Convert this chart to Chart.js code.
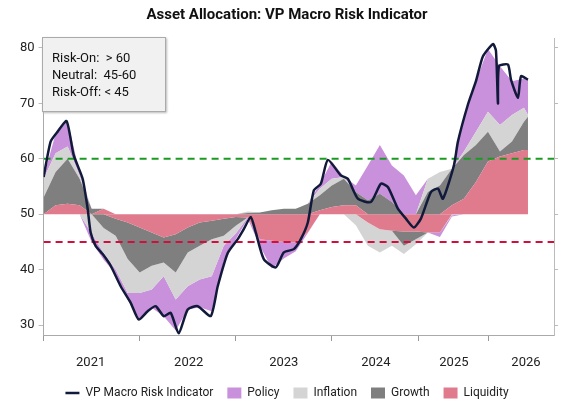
<!DOCTYPE html>
<html><head><meta charset="utf-8">
<script src="https://cdn.jsdelivr.net/npm/chart.js@4"></script>
<style>
html,body{margin:0;padding:0;background:#fff;}
#wrap{position:relative;width:567px;height:415px;}
#box{position:absolute;left:42px;top:37px;width:124px;height:75px;background:#f1f1f1;border:1px solid #aaa;box-shadow:1px 1px 2px #bbb;font:13px Roboto,sans-serif;color:#111;padding:11px 0 0 9px;box-sizing:border-box;line-height:17px;}
</style></head><body>
<div id="wrap"><canvas id="c" width="567" height="415"></canvas>
<div id="box">Risk-On:&nbsp; &gt; 60<br>Neutral:&nbsp; 45-60<br>Risk-Off: &lt; 45</div></div>
<script>
// time index (chart units) for component samples
const compX = [0,12,24,36,48,60,72,84,96,108,120,132,144,156,168,180,192,204,216,228,240,252,264,276,288,300,312,324,336,348,360,372,384,396,408,420,432,444,456,468,480,484];
const liquidity = [0,1.6,1.9,1.6,0,1,-0.8,-1.5,-2.4,-3.3,-4.2,-3.6,-2.4,-1.5,-1.2,-0.8,-0.5,-0.6,-4.5,-4.8,-5,-5.1,-3.3,0.7,1.3,1.6,1.6,-1.5,-2.7,-3,-3.1,-3.1,-3.3,-3.3,1.6,2.8,5.8,9.5,10.4,11,11.6,11.6];
const growth    = [3,6,8.1,4.8,1,-2.5,-3.1,-6.6,-8.1,-6,-4.5,-6.9,-4.5,-4.2,-3.3,-3.1,-1.6,0.2,0.3,0.7,1,1,1.9,2.7,3.9,4.8,2.4,2.5,3.7,2.2,-2.6,-1.4,4,5.2,6.6,7.9,6.7,5.4,0.9,2.1,5.1,6];
const inflation = [3.4,3.4,2.2,0.6,-3.5,-4.5,-6.1,-6.1,-3.7,-4.3,-2.5,-4.9,-6.1,-6.1,-6.7,-1.8,-1.4,0.3,0,0,0,0,0,1.2,1.2,0.3,-2,-4.2,-4.2,-2.7,-1.5,-0.9,2.4,2.4,-0.2,0.6,2.4,3.6,4.8,4.8,2.5,0.3];
const policy    = [0.3,3.5,4.6,0.5,-1.5,-1.2,-0.8,-1.2,-4.8,-3.3,-7.2,-5.6,-4.2,-5,-6.3,-2.8,-1,-0.2,-1.2,-5,-3,-1.6,-0.1,0.8,3.1,0.1,1.2,6.3,8.8,6.6,7,3.4,0,-0.8,-0.2,6.2,9.1,11.3,10.6,6.1,5.3,6.4];
// indicator line
const lineX = [0,7,14,23,30,39,44,47,52,59,67,77,87,95,104,112,120,127,135,144,154,167,174,184,194,200,207,212,220,232,240,250,257,264,270,277,284,297,304,314,327,337,344,354,362,370,377,387,394,399,410,414,424,432,439,449,452,454,455,464,467,474,477,484];
const lineY = [56.7,63.1,64.9,66.8,60.7,56.4,51,46.7,44.3,42.8,40.7,37,34,31,32.5,33.4,31.6,32.2,28.5,32.8,33.4,31.6,37,43,45.5,47.3,49.5,46.7,41.9,40.4,43.1,43.7,45.5,48.5,54.3,55.5,59.8,57,56.4,52.8,52.2,55.5,54.9,51,49.2,47.6,49.2,54,54.6,52.8,58.8,63.1,69.8,74,78.5,80.7,79.5,70,76.7,77,74.3,71,74.9,74.3];
const yearTicks = [0,96,192,288,375,445];
const yearLabelPos = [47,145,240,332,410,482];
const yearLabels = ['2021','2022','2023','2024','2025','2026'];
const yTicks = [30,40,50,60,70,80];
const BASE = 50, RISK_ON = 60, RISK_OFF = 45;

const names = ['Liquidity','Growth','Inflation','Policy'];
const colors = ['#e07b8e','#7f7f7f','#d4d4d4','#c990dc'];
const comps = [liquidity,growth,inflation,policy];
const areaSets = [];
['pos','neg'].forEach(side=>{
  const cum = compX.map(()=>BASE);
  comps.forEach((arr,k)=>{
    const pts = compX.map((x,i)=>{
      const v = side==='pos'?Math.max(arr[i],0):Math.min(arr[i],0);
      cum[i]+=v; return {x:x,y:cum[i]};
    });
    areaSets.push({label: side==='pos'?names[k]:'', data:pts, borderWidth:0, pointRadius:0,
      backgroundColor:colors[k], fill: k===0?{value:BASE}:'-1', tension:0, pointStyle:'rect'});
  });
});
const xEnd = 510;
const datasets = [
  {label:'VP Macro Risk Indicator', data:lineX.map((x,i)=>({x:x,y:lineY[i]})), borderColor:'#111a3a', backgroundColor:'#111a3a', borderWidth:2.5, pointRadius:0, fill:false, tension:0.2, pointStyle:'line'},
  {label:'', data:[{x:0,y:RISK_ON},{x:xEnd,y:RISK_ON}], borderColor:'#1a9a22', borderWidth:2, borderDash:[7,5], pointRadius:0, fill:false},
  {label:'', data:[{x:0,y:RISK_OFF},{x:xEnd,y:RISK_OFF}], borderColor:'#d0103c', borderWidth:2, borderDash:[7,5], pointRadius:0, fill:false},
  ...areaSets
];
const order = ['VP Macro Risk Indicator','Policy','Inflation','Growth','Liquidity'];
Chart.defaults.font.family = 'Roboto, sans-serif';
new Chart(document.getElementById('c'),{
  type:'line',
  data:{datasets},
  options:{
    responsive:false, animation:false,
    layout:{padding:{left:16,right:9,top:0,bottom:6}},
    plugins:{
      title:{display:true,text:'Asset Allocation: VP Macro Risk Indicator',font:{size:15,weight:'bold'},color:'#111',padding:{top:6,bottom:14}},
      legend:{position:'bottom',labels:{usePointStyle:true,pointStyleWidth:14,boxHeight:11,color:'#222',font:{size:12},padding:14,
        filter:(it)=>!!it.text, sort:(a,b)=>order.indexOf(a.text)-order.indexOf(b.text)}},
      tooltip:{enabled:false}
    },
    scales:{
      x:{type:'linear',min:0,max:xEnd,
        afterBuildTicks:(s)=>{s.ticks=yearTicks.map(v=>({value:v}));},
        afterFit:(s)=>{s.height=6;},
        ticks:{display:false},
        grid:{display:true,drawOnChartArea:false,tickLength:6,color:'#999'},
        border:{display:true,color:'#aaa'}},
      x2:{type:'linear',position:'bottom',min:0,max:xEnd,
        afterBuildTicks:(s)=>{s.ticks=yearLabelPos.map(v=>({value:v}));},
        afterFit:(s)=>{s.height=32;},
        ticks:{callback:(v)=>yearLabels[yearLabelPos.indexOf(v)]||'',autoSkip:false,maxRotation:0,color:'#222',font:{size:13},padding:6},
        grid:{display:false},border:{display:false}},
      y:{min:28.2,max:81.8,
        afterBuildTicks:(s)=>{s.ticks=yTicks.map(v=>({value:v}));},
        ticks:{color:'#222',font:{size:13},padding:4},
        grid:{display:true,drawOnChartArea:false,tickLength:5,color:'#bbb'},
        border:{display:true,color:'#aaa'}},
      y2:{position:'right',min:28.2,max:81.8,
        afterBuildTicks:(s)=>{s.ticks=yTicks.map(v=>({value:v}));},
        ticks:{display:false},
        grid:{display:true,drawOnChartArea:false,tickLength:4,color:'#bbb'},
        border:{display:true,color:'#bbb'}}
    }
  }
});
</script></body></html>
